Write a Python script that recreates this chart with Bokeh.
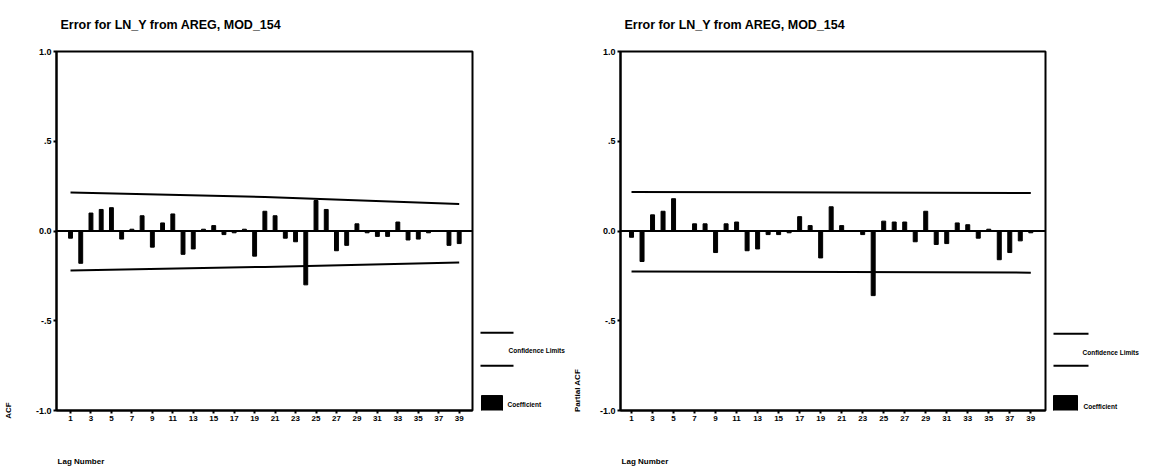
from bokeh.plotting import figure
from bokeh.layouts import row
from bokeh.models import Range1d, FixedTicker, Span
from bokeh.embed import file_html
from bokeh.resources import INLINE
from bokeh.core.properties import value

# ---- data -------------------------------------------------------------
lags = list(range(1, 40))

acf = [-0.04, -0.18, 0.10, 0.12, 0.13, -0.045, 0.01, 0.085, -0.09, 0.045,
       0.095, -0.13, -0.10, 0.01, 0.03, -0.02, -0.01, 0.01, -0.14, 0.11,
       0.085, -0.04, -0.06, -0.30, 0.17, 0.12, -0.11, -0.08, 0.04, -0.01,
       -0.03, -0.03, 0.05, -0.05, -0.045, -0.01, 0.0, -0.08, -0.07]

pacf = [-0.035, -0.17, 0.09, 0.11, 0.18, 0.0, 0.04, 0.04, -0.12, 0.04,
        0.05, -0.11, -0.10, -0.02, -0.02, -0.01, 0.08, 0.03, -0.15, 0.135,
        0.03, 0.0, -0.02, -0.36, 0.055, 0.05, 0.05, -0.06, 0.11, -0.075,
        -0.07, 0.045, 0.035, -0.04, 0.01, -0.16, -0.12, -0.055, -0.01]

acf_limit_lags = [1, 20, 39]
acf_upper = [0.215, 0.19, 0.15]
acf_lower = [-0.22, -0.20, -0.175]

pacf_limit_lags = [1, 39]
pacf_upper = [0.217, 0.212]
pacf_lower = [-0.225, -0.232]

y_ticks = [-1.0, -0.5, 0.0, 0.5, 1.0]
y_tick_labels = ["-1.0", "-.5", "0.0", ".5", "1.0"]
x_ticks = list(range(1, 40, 2))

title_text = "Error for LN_Y from AREG, MOD_154"
x_title = "Lag Number"

FONT = "Liberation Sans"
H = 469
TOP = 50      # frame top (shared by every figure in the row)
BOTTOM = 59   # space under the frame
NBSP = "\u00a0"  # lead-in so a start-anchored axis label begins at the axis origin


def make_panel(vals, lim_x, up, lo, ylab, ylab_pad, w, bl, x0, x1, ylab_standoff):
    p = figure(width=w, height=H, x_range=Range1d(x0, x1), y_range=Range1d(-1, 1),
               output_backend="svg", toolbar_location=None,
               min_border_left=bl, min_border_right=4,
               min_border_top=TOP, min_border_bottom=BOTTOM)
    p.grid.visible = False
    p.background_fill_color = "white"
    p.border_fill_color = "white"
    p.outline_line_color = "black"
    p.outline_line_width = 2

    # axes
    p.xaxis.ticker = FixedTicker(ticks=x_ticks)
    p.yaxis.ticker = FixedTicker(ticks=y_ticks)
    p.yaxis.major_label_overrides = {t: s for t, s in zip(y_ticks, y_tick_labels)}
    for ax in (p.xaxis, p.yaxis):
        ax.axis_line_width = 2
        ax.axis_line_color = "black"
        ax.major_tick_in = 0
        ax.major_tick_out = 3
        ax.major_tick_line_width = 2
        ax.minor_tick_line_color = None
        ax.major_label_text_font = FONT
        ax.major_label_text_font_style = "bold"
        ax.major_label_text_color = "black"
        ax.axis_label_text_font = FONT
        ax.axis_label_text_font_size = "8px"
        ax.axis_label_text_font_style = "bold"
        ax.axis_label_text_color = "black"
        ax.axis_label_align = "start"
    p.xaxis.major_label_text_font_size = "8px"
    p.yaxis.major_label_text_font_size = "9px"
    p.xaxis.major_label_standoff = 2
    p.yaxis.major_label_standoff = 2

    # axis titles, at the start of each axis
    p.xaxis.axis_label = NBSP * 22 + x_title
    p.xaxis.axis_label_standoff = 33
    p.yaxis.axis_label = NBSP * ylab_pad + ylab
    p.yaxis.axis_label_standoff = ylab_standoff

    # chart title
    p.title.text = title_text
    p.title.align = "left"
    p.title.vertical_align = "top"
    p.title.offset = 4
    p.title.text_font = FONT
    p.title.text_font_size = "12.5px"
    p.title.text_font_style = "bold"
    p.title.text_color = "black"
    p.title.standoff = 35

    # zero line, coefficients, confidence limits
    p.add_layout(Span(location=0, dimension="width", line_color="black", line_width=2))
    p.vbar(x=lags, top=vals, bottom=0, width=0.38, color="black")
    p.line(lim_x, up, line_color="black", line_width=2)
    p.line(lim_x, lo, line_color="black", line_width=2)
    return p


def make_legend(left, right, line_x, line_y, text_pos, box, coef_pos):
    # y runs in page pixels over the frame band so the key sits where it should
    p = figure(width=right - left, height=H, x_range=Range1d(left, right),
               y_range=Range1d(H - BOTTOM, TOP), output_backend="svg",
               toolbar_location=None, min_border_left=0, min_border_right=0,
               min_border_top=TOP, min_border_bottom=BOTTOM)
    p.xaxis.visible = False
    p.yaxis.visible = False
    p.grid.visible = False
    p.outline_line_color = None
    p.border_fill_color = "white"
    for yy in line_y:
        p.line(line_x, [yy, yy], line_color="black", line_width=2)
    p.text(x=[text_pos[0]], y=[text_pos[1]], text=["Confidence Limits"],
           text_font=value(FONT), text_font_size="6.5px", text_font_style="bold",
           text_baseline="middle", text_align="left", text_color="black")
    p.quad(left=[box[0]], right=[box[1]], top=[box[2]], bottom=[box[3]], color="black")
    p.text(x=[coef_pos[0]], y=[coef_pos[1]], text=["Coefficient"],
           text_font=value(FONT), text_font_size="6.5px", text_font_style="bold",
           text_baseline="middle", text_align="left", text_color="black")
    return p


acf_plot = make_panel(acf, acf_limit_lags, acf_upper, acf_lower, "ACF", 0,
                      476, 56, -0.37, 40.3, 20)
acf_legend = make_legend(476, 569, [480, 513], [332, 365], (508, 350),
                         (481, 502, 395, 412), (507, 404))
pacf_plot = make_panel(pacf, pacf_limit_lags, pacf_upper, pacf_lower, "Partial ACF", 18,
                       480, 51, -0.05, 40.4, 15)
pacf_legend = make_legend(1049, 1149, [1053, 1088], [333, 365], (1082, 352),
                          (1053, 1077, 395, 415), (1083, 406))

layout = row(acf_plot, acf_legend, pacf_plot, pacf_legend)

with open("out.html", "w") as f:
    f.write(file_html(layout, INLINE))
